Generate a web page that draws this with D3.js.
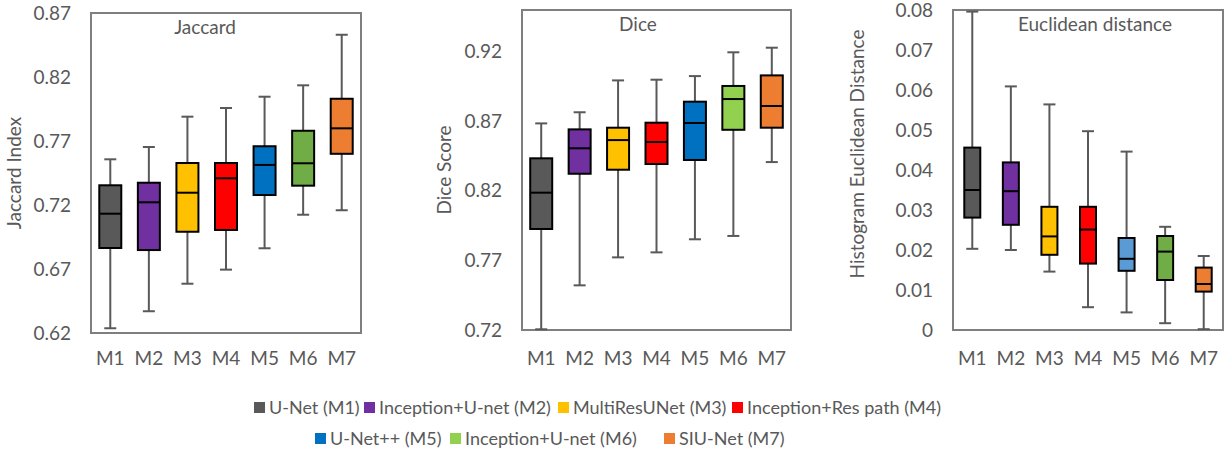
<!DOCTYPE html>
<html>
<head>
<meta charset="utf-8">
<script src="https://cdn.jsdelivr.net/npm/d3@7"></script>
<style>
  html, body { margin: 0; padding: 0; background: #fff; }
  svg { display: block; font-family: Lato, "Open Sans", sans-serif; }
</style>
</head>
<body>
<svg id="chart" width="1224" height="457"></svg>
<script>
// five-number summaries per model: [min, q1, median, q3, max]
const models = ['M1', 'M2', 'M3', 'M4', 'M5', 'M6', 'M7'];
const modelNames = ['U-Net (M1)', 'Inception+U-net (M2)', 'MultiResUNet (M3)', 'Inception+Res path (M4)',
     'U-Net++ (M5)', 'Inception+U-net (M6)', 'SIU-Net (M7)'];

const jaccard = [
     [0.6237, 0.6864, 0.7132, 0.7354, 0.7557],
     [0.6370, 0.6848, 0.7221, 0.7374, 0.7653],
     [0.6585, 0.6991, 0.7296, 0.7528, 0.7890],
     [0.6695, 0.7005, 0.7409, 0.7528, 0.7958],
     [0.6862, 0.7278, 0.7513, 0.7659, 0.8046],
     [0.7124, 0.7351, 0.7526, 0.7780, 0.8135],
     [0.7159, 0.7600, 0.7799, 0.8030, 0.8530]
];
const dice = [
     [0.7205, 0.7926, 0.8187, 0.8434, 0.8685],
     [0.7521, 0.8323, 0.8506, 0.8642, 0.8765],
     [0.7722, 0.8352, 0.8565, 0.8654, 0.8994],
     [0.7758, 0.8393, 0.8551, 0.8690, 0.8999],
     [0.7852, 0.8422, 0.8688, 0.8841, 0.9025],
     [0.7876, 0.8639, 0.8860, 0.8954, 0.9196],
     [0.8407, 0.8654, 0.8810, 0.9030, 0.9229]
];
const euclid = [
     [0.0203, 0.0281, 0.0350, 0.0456, 0.0796],
     [0.0200, 0.0263, 0.0347, 0.0419, 0.0609],
     [0.0146, 0.0188, 0.0234, 0.0308, 0.0564],
     [0.0057, 0.0166, 0.0251, 0.0308, 0.0497],
     [0.0044, 0.0148, 0.0178, 0.0230, 0.0446],
     [0.0017, 0.0125, 0.0196, 0.0235, 0.0258],
     [0.0002, 0.0096, 0.0115, 0.0156, 0.0185]
];

const jaccardTicks = [0.62, 0.67, 0.72, 0.77, 0.82, 0.87];
const diceTicks = [0.72, 0.77, 0.82, 0.87, 0.92];
const euclidTicks = [0, 0.01, 0.02, 0.03, 0.04, 0.05, 0.06, 0.07, 0.08];

const legendColors = ['#595959', '#7030A0', '#FFC000', '#FF0000', '#0070C0', '#92D050', '#ED7D31'];
const jaccardColors = ['#595959', '#7030A0', '#FFC000', '#FF0000', '#0070C0', '#70AD47', '#ED7D31'];
const diceColors = ['#595959', '#7030A0', '#FFC000', '#FF0000', '#0070C0', '#92D050', '#ED7D31'];
const euclidColors = ['#595959', '#7030A0', '#FFC000', '#FF0000', '#5B9BD5', '#70AD47', '#ED7D31'];

const TXT = '#595959';
const svg = d3.select('#chart');

const panels = [
     { data: jaccard, colors: jaccardColors, ticks: jaccardTicks, domain: [0.62, 0.87], fmt: d3.format('.2f'),
          box: [91, 13, 361, 333], title: 'Jaccard', titleX: 205, titleY: 34,
          yTitle: 'Jaccard Index', yTitleX: 21, yTitleY: 173, boxW: 22 },
     { data: dice, colors: diceColors, ticks: diceTicks, domain: [0.72, 0.95], fmt: d3.format('.2f'),
          box: [522, 10, 791, 330], title: 'Dice', titleX: 638, titleY: 31,
          yTitle: 'Dice Score', yTitleX: 451, yTitleY: 170, boxW: 22 },
     { data: euclid, colors: euclidColors, ticks: euclidTicks, domain: [0, 0.08], fmt: d => d === 0 ? '0' : d3.format('.2f')(d),
          box: [953, 10, 1223, 330], title: 'Euclidean distance', titleX: 1095, titleY: 31,
          yTitle: 'Histogram Euclidean Distance', yTitleX: 864, yTitleY: 154, boxW: 16 }
];

panels.forEach(p => {
     const [x0, y0, x1, y1] = p.box;
     const x = d3.scaleBand().domain(models).range([x0, x1]);
     const y = d3.scaleLinear().domain(p.domain).range([y1, y0]);
     const g = svg.append('g');

     // plot border
     g.append('rect')
          .attr('x', x0).attr('y', y0)
          .attr('width', x1 - x0).attr('height', y1 - y0)
          .attr('fill', 'none').attr('stroke', '#7f7f7f').attr('stroke-width', 2);

     // y axis labels
     const yAxis = d3.axisLeft(y).tickValues(p.ticks).tickFormat(p.fmt).tickSize(0).tickPadding(20);
     const ya = g.append('g').attr('transform', `translate(${x0},0)`).call(yAxis);
     ya.select('.domain').remove();
     ya.selectAll('text').attr('fill', TXT).style('font-size', '19px').style('font-family', 'Lato, sans-serif');

     // x axis labels
     const xAxis = d3.axisBottom(x).tickSize(0).tickPadding(0);
     const xa = g.append('g').attr('transform', `translate(0,${y1})`).call(xAxis);
     xa.select('.domain').remove();
     xa.selectAll('text').attr('fill', TXT).attr('y', 358 - y1).attr('dy', '0.35em')
          .style('font-size', '19px').style('font-family', 'Lato, sans-serif');

     // boxes
     const cx = m => x(m) + x.bandwidth() / 2;
     const items = g.selectAll('g.item').data(p.data.map((d, i) => ({ m: models[i], v: d, c: p.colors[i] })))
          .join('g').attr('class', 'item');

     items.append('line')
          .attr('x1', d => cx(d.m)).attr('x2', d => cx(d.m))
          .attr('y1', d => y(d.v[0])).attr('y2', d => y(d.v[4]))
          .attr('stroke', '#595959').attr('stroke-width', 2);
     [0, 4].forEach(k => {
          items.append('line')
               .attr('x1', d => cx(d.m) - 6).attr('x2', d => cx(d.m) + 6)
               .attr('y1', d => y(d.v[k])).attr('y2', d => y(d.v[k]))
               .attr('stroke', '#595959').attr('stroke-width', 2);
     });
     items.append('rect')
          .attr('x', d => cx(d.m) - p.boxW / 2).attr('width', p.boxW)
          .attr('y', d => y(d.v[3])).attr('height', d => y(d.v[1]) - y(d.v[3]))
          .attr('fill', d => d.c).attr('stroke', '#000').attr('stroke-width', 2);
     items.append('line')
          .attr('x1', d => cx(d.m) - p.boxW / 2).attr('x2', d => cx(d.m) + p.boxW / 2)
          .attr('y1', d => y(d.v[2])).attr('y2', d => y(d.v[2]))
          .attr('stroke', '#000').attr('stroke-width', 2);

     // titles
     g.append('text').attr('x', p.titleX).attr('y', p.titleY).attr('text-anchor', 'middle')
          .attr('fill', TXT).style('font-size', '19px').text(p.title);
     g.append('text').attr('transform', `translate(${p.yTitleX},${p.yTitleY}) rotate(-90)`)
          .attr('text-anchor', 'middle').attr('fill', TXT).style('font-size', '19px').text(p.yTitle);
});

// legend
const legendRows = [
     { y: 408, idx: [0, 1, 2, 3], xs: [254, 364, 558, 732] },
     { y: 439, idx: [4, 5, 6], xs: [315, 450, 664] }
];
legendRows.forEach(r => {
     r.idx.forEach((i, k) => {
          svg.append('rect').attr('x', r.xs[k]).attr('y', r.y - 6).attr('width', 11).attr('height', 11)
               .attr('fill', legendColors[i]);
          svg.append('text').attr('x', r.xs[k] + 15).attr('y', r.y).attr('dy', '0.35em')
               .attr('fill', TXT).style('font-size', '18px').text(modelNames[i]);
     });
});
</script>
</body>
</html>
